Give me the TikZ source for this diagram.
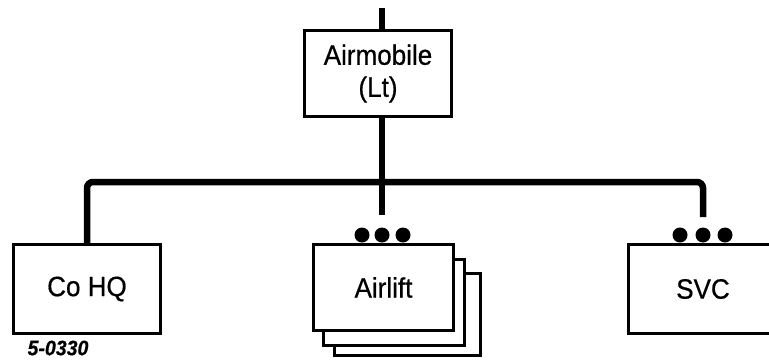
\documentclass[tikz,border=0pt]{standalone}
\usepackage{fontspec}
\setmainfont{Liberation Sans}[FakeStretch=0.93,FakeBold=0.6]
\begin{document}
\begin{tikzpicture}[x=1pt,y=-1pt,
  box/.style={draw, line width=2.6pt, fill=white, inner sep=0pt, align=center,
    font=\fontsize{28}{32}\selectfont},
  conn/.style={line width=6.5pt},
  dot/.style={circle, fill=black, inner sep=0pt, minimum size=15pt}]
\useasboundingbox (0,0) rectangle (769,360);
\begin{scope}
\clip (0,0) rectangle (769,360);
% top box
\node[box, minimum width=147pt, minimum height=86pt] (air) at (378,73.5) {Airmobile\\(Lt)};
% Co HQ
\node[box, minimum width=147pt, minimum height=89pt] (cohq) at (87,289) {Co HQ};
% Airlift stack
\node[box, minimum width=146pt, minimum height=82pt] (al3) at (407.5,314.5) {};
\node[box, minimum width=141pt, minimum height=86pt] (al2) at (394,302.5) {};
\node[box, minimum width=140.4pt, minimum height=86.4pt] (al1) at (383.5,287.5) {Airlift};
% SVC
\node[box, minimum width=149.4pt, minimum height=89.4pt] (svc) at (703,289) {SVC};
% dots
\node[dot] (ad1) at (362,235) {};
\node[dot] (ad2) at (382,235) {};
\node[dot] (ad3) at (403,235) {};
\node[dot] (sd1) at (680,235) {};
\node[dot] (sd2) at (703,235) {};
\node[dot] (sd3) at (725,235) {};
% connectors
\coordinate (topend) at (382,8);
\coordinate (bar) at (382,182);
\coordinate (alend) at (382,215);
\coordinate (svcend) at (703,217);
\draw[conn] (topend) -- (topend |- air.north);
\draw[conn] (bar |- air.south) -- (bar);
\draw[conn, rounded corners=6pt] (cohq.north -| 87,0) |- (bar) -| (svcend);
\draw[conn] (bar) -- (alend);
\end{scope}
\node[font=\bfseries\itshape\fontsize{21}{22}\selectfont] (code) at (58,348) {5-0330};
\end{tikzpicture}
\end{document}
